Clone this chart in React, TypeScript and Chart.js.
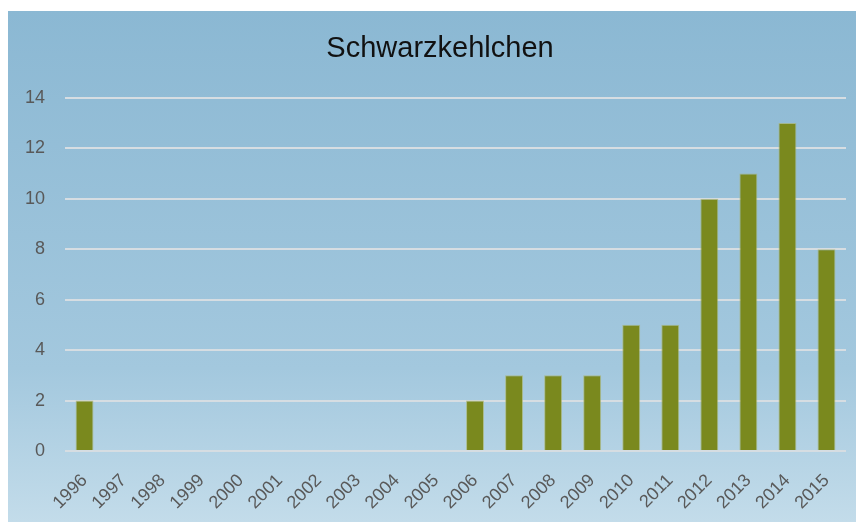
import React, { useEffect, useRef } from "react";
import { Chart, registerables } from "chart.js";

Chart.register(...registerables);

const years = ["1996","1997","1998","1999","2000","2001","2002","2003","2004","2005","2006","2007","2008","2009","2010","2011","2012","2013","2014","2015"];
const counts = [2,0,0,0,0,0,0,0,0,0,2,3,3,3,5,5,10,11,13,8];
const chartTitle = "Schwarzkehlchen";

export default function App() {
  const ref = useRef<HTMLCanvasElement | null>(null);
  useEffect(() => {
    if (!ref.current) return;
    const chart = new Chart(ref.current, {
      type: "bar",
      data: {
        labels: years,
        datasets: [{
          data: counts,
          backgroundColor: "#7a891e",
          borderColor: "rgba(170,180,110,0.7)",
          borderWidth: 1,
          barPercentage: 1.0,
          categoryPercentage: 0.46,
        }],
      },
      options: {
        animation: false,
        responsive: false,
        maintainAspectRatio: false,
        layout: { padding: { left: 16, right: 0, top: 0, bottom: 0 } },
        plugins: {
          legend: { display: false },
          tooltip: { enabled: false },
          title: {
            display: true,
            text: chartTitle,
            color: "#111111",
            font: { family: "'Liberation Sans', Arial, sans-serif", size: 29, weight: "normal" },
            padding: { top: 21, bottom: 31 },
          },
        },
        scales: {
          x: {
            grid: { display: false, drawTicks: false },
            border: { display: false },
            ticks: {
              color: "#595959",
              font: { family: "'Liberation Sans', Arial, sans-serif", size: 18 },
              minRotation: 45,
              maxRotation: 45,
              padding: 19,
            },
            afterFit: (s: any) => { s.height = 71; s.paddingLeft = 0; s.paddingRight = 0; },
          },
          y: {
            min: 0,
            max: 14,
            ticks: {
              stepSize: 2,
              color: "#595959",
              font: { family: "'Liberation Sans', Arial, sans-serif", size: 18 },
              padding: 20,
            },
            grid: { color: "#d6dde2", lineWidth: 2, drawTicks: false },
            border: { display: false },
            afterFit: (s: any) => { s.width = 41; },
          },
          yRight: {
            type: "linear",
            position: "right",
            min: 0,
            max: 14,
            grid: { display: false, drawTicks: false },
            border: { display: false },
            ticks: { display: false },
            afterFit: (s: any) => { s.width = 10; },
          },
        },
      },
    });
    return () => chart.destroy();
  }, []);
  return (
    <div
      style={{
        position: "absolute",
        left: 8,
        top: 11,
        width: 848,
        height: 511,
        background: "linear-gradient(to bottom, #8bb8d3 0%, #a3c8de 70%, #c3dcea 100%)",
      }}
    >
      <canvas ref={ref} width={848} height={511} style={{ display: "block" }} />
    </div>
  );
}
